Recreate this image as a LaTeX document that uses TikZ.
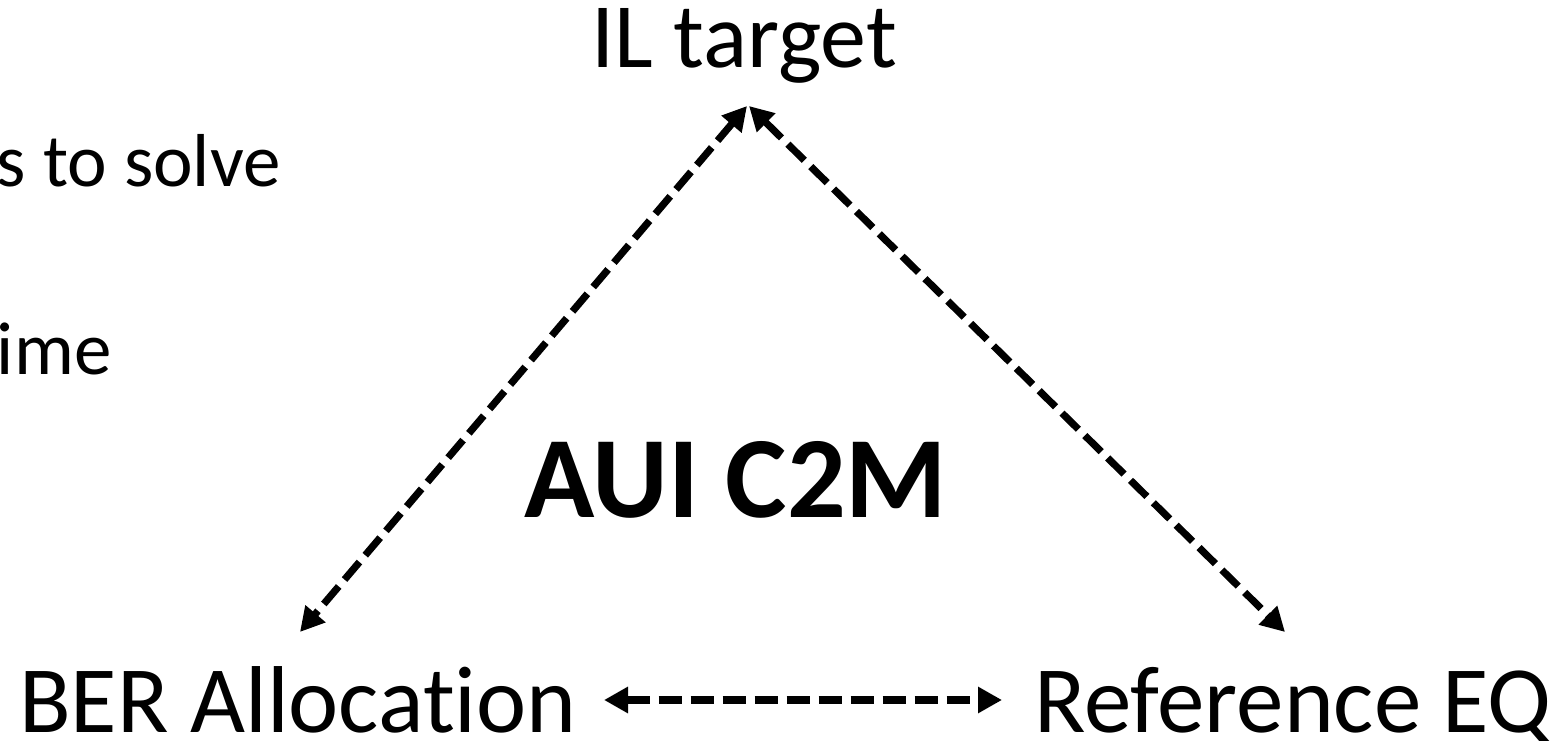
\documentclass[tikz,border=0pt]{standalone}
\usepackage{fontspec}
\setmainfont{Carlito}[Ligatures={NoCommon,TeX}]
\usetikzlibrary{arrows.meta}
\tikzset{
  lbl/.style={inner sep=0pt, outer sep=0pt, anchor=base, font=\fontsize{92}{110}\selectfont},
  lblb/.style={inner sep=0pt, outer sep=0pt, anchor=base, font=\fontsize{95}{110}\selectfont},
  side/.style={inner sep=0pt, outer sep=0pt, anchor=base west, font=\fontsize{75}{90}\selectfont},
  title/.style={inner sep=0pt, outer sep=0pt, anchor=base, font=\fontsize{116}{130}\selectfont\bfseries},
  link/.style={line width=7.2pt, dash pattern=on 23pt off 9pt, {Triangle[length=24pt,width=25pt]}-{Triangle[length=24pt,width=25pt]}}
}
\begin{document}
\begin{tikzpicture}[x=1pt,y=1pt]
\useasboundingbox (0,0) rectangle (1565,741);
\begin{scope}
\clip (0,0) rectangle (1565,741);
\node[lbl] (il) at (744,673) {IL target};
\node[lblb] (ber) at (298,9) {BER Allocation};
\node[lblb] (ref) at (1293,9) {Reference EQ};
\node[title] (aui) at (736,223) {AUI C2M};
\node[side] (s1) at (-3,554) {s to solve};
\node[side] (s2) at (-3,366) {ime};
\end{scope}
\coordinate (apexL) at (747,635);
\coordinate (apexR) at (749,635);
\coordinate (berT) at (300,109);
\coordinate (refT) at (1285,109);
\coordinate (berR) at (604,41);
\coordinate (refL) at (1002,41);
\draw[link] (apexL) -- (berT);
\draw[link] (apexR) -- (refT);
\draw[link] (berR) -- (refL);
\end{tikzpicture}
\end{document}
